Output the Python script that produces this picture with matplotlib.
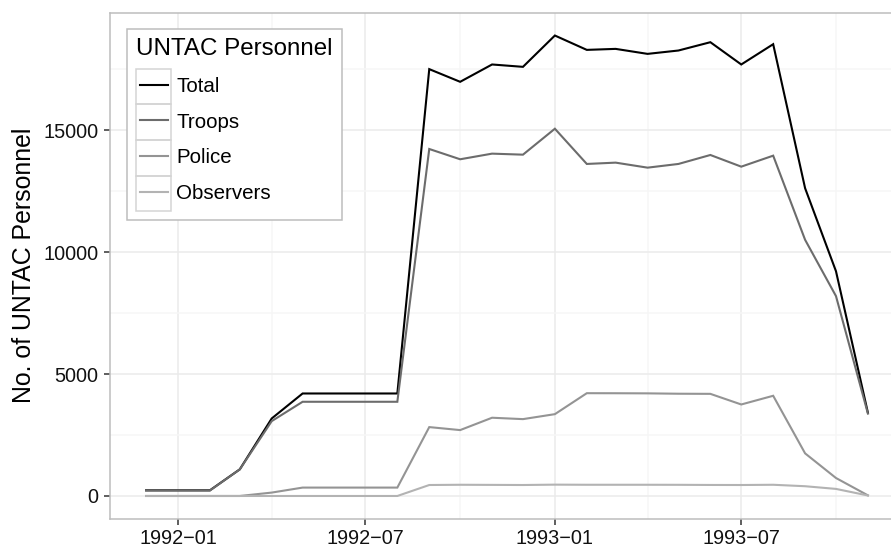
import numpy as np
import pandas as pd
import matplotlib
matplotlib.use("Agg")
import matplotlib.pyplot as plt
import matplotlib.dates as mdates
from matplotlib.patches import Rectangle

plt.rcParams['font.family'] = ['Liberation Sans', 'DejaVu Sans']

# monthly UNTAC strength, Dec 1991 - Nov 1993
months = pd.date_range("1991-12-01", "1993-11-01", freq="MS")
total = [233, 233, 233, 1093, 3180, 4205, 4205, 4205, 4205, 17512, 16992, 17703,
         17606, 18891, 18302, 18343, 18138, 18276, 18617, 17703, 18535, 12627, 9220, 3414]
troops = [225, 225, 225, 1090, 3071, 3865, 3865, 3865, 3865, 14236, 13814, 14045,
          14003, 15067, 13622, 13676, 13470, 13622, 13990, 13511, 13962, 10510, 8200, 3380]
police = [0, 0, 0, 0, 139, 344, 344, 344, 344, 2826, 2703, 3210,
          3153, 3357, 4217, 4215, 4210, 4195, 4190, 3754, 4111, 1748, 737, 25]
observers = [0, 0, 0, 0, 0, 0, 0, 0, 0, 450, 460, 455,
             450, 465, 460, 460, 460, 458, 452, 450, 460, 400, 290, 20]

series = [("Total", total, "#000000"),
          ("Troops", troops, "#6c6c6c"),
          ("Police", police, "#949494"),
          ("Observers", observers, "#b3b3b3")]

W, H = 891, 548
fig = plt.figure(figsize=(W / 100, H / 100), dpi=100)
# panel runs past the right edge of the image, as in the reference
x0, x1, ytop, ybot = 110, 904, 12.5, 519
ax = fig.add_axes([x0 / W, 1 - ybot / H, (x1 - x0) / W, (ybot - ytop) / H])

for name, vals, col in series:
    ax.plot(months, vals, color=col, lw=1.5, label=name, solid_joinstyle='miter', zorder=3)

maj = pd.to_datetime(["1992-01-01", "1992-07-01", "1993-01-01", "1993-07-01"])
mnr = pd.to_datetime(["1991-10-01", "1992-04-01", "1992-10-01", "1993-04-01", "1993-10-01"])
ax.set_xticks(maj)
ax.set_xticks(mnr, minor=True)
ax.xaxis.set_major_formatter(mdates.DateFormatter("%Y\u2212%m"))
ax.set_yticks([0, 5000, 10000, 15000])
ax.set_yticks([2500, 7500, 12500, 17500], minor=True)

# ggplot-ish default expansion (after ticks, so they don't widen the view)
span = months[-1] - months[0]
ax.set_xlim(months[0] - span * 0.05, months[-1] + span * 0.05)
ymax = max(total)
ax.set_ylim(-0.05 * ymax, ymax * 1.05)

ax.grid(which='major', color='#ebebeb', lw=1.1, zorder=0)
ax.grid(which='minor', color='#f6f6f6', lw=1.1, zorder=0)
ax.set_axisbelow(True)
ax.tick_params(which='major', length=4.5, width=1.1, color='#333333',
               labelsize=14.3, labelcolor='#111111', pad=4)
ax.tick_params(axis='x', which='major', pad=3)
ax.tick_params(which='minor', length=0)
for s in ax.spines.values():
    s.set_color('#bdbdbd')
    s.set_linewidth(1.1)

ax.set_ylabel("No. of UNTAC Personnel", fontsize=17.9, labelpad=5)

fs = 14.8
fpx = fs * 100 / 72
leg = ax.legend(title="UNTAC Personnel", loc='upper left',
                bbox_to_anchor=((127 - x0) / (x1 - x0), 1 - (29 - ytop) / (ybot - ytop)),
                borderaxespad=0, fontsize=fs, title_fontsize=17.4,
                handlelength=35 / fpx, handletextpad=5 / fpx, labelspacing=0.81,
                borderpad=0.45, frameon=False)
leg._legend_box.align = "left"
leg.set_zorder(6)

# shorten the swatch lines a little inside their key boxes
for h in leg.legend_handles:
    xd = np.asarray(h.get_xdata(), dtype=float)
    yd = np.asarray(h.get_ydata(), dtype=float)
    h.set_data(np.linspace(xd.min() + 2.5, xd.max() - 2.5, len(yd)), yd)

# key boxes around the swatches, plus a frame that encloses them
fig.canvas.draw()
r = fig.canvas.get_renderer()
lb = leg.get_window_extent(r)
hb = [h.get_window_extent(r) for h in leg.legend_handles]
tb = [t.get_window_extent(r) for t in leg.get_texts()]
cy = [(b.y0 + b.y1) / 2 for b in tb]
pitch = abs(cy[0] - cy[1])
keys_bottom = cy[-1] - pitch / 2
frame_bottom = keys_bottom - 9
frame = Rectangle((lb.x0, frame_bottom), lb.x1 - lb.x0, lb.y1 - frame_bottom,
                  transform=None, fc='white', ec='#bdbdbd', lw=1.1, zorder=5)
ax.add_artist(frame)
for b, c in zip(hb, cy):
    rect = Rectangle((b.x0 - 3.5, c - pitch / 2), b.width + 7, pitch,
                     transform=None, fill=False, ec='#d4d4d4', lw=1.1, zorder=7)
    ax.add_artist(rect)

fig.savefig("out.png", dpi=100)
